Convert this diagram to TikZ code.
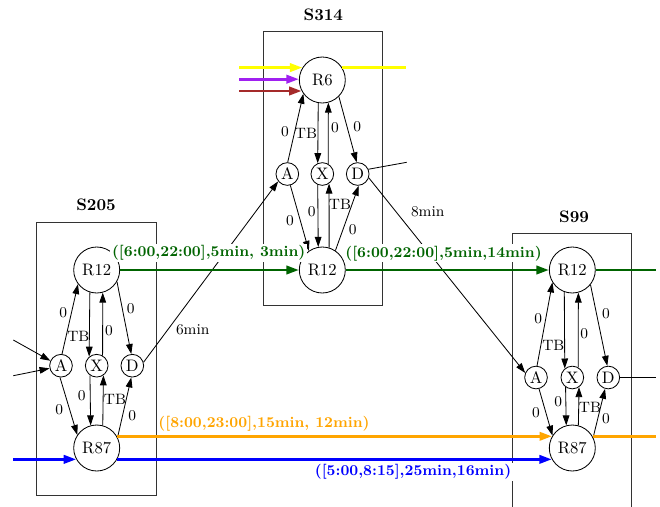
\documentclass[tikz,border=0pt]{standalone}
\usepackage{tikz}
\usetikzlibrary{arrows.meta}
\usepackage{xcolor}
\definecolor{railgreen}{RGB}{0,100,0}
\definecolor{railorange}{RGB}{255,165,0}
\definecolor{railblue}{RGB}{0,0,255}
\definecolor{railpurple}{RGB}{160,32,240}
\definecolor{railbrown}{RGB}{165,42,42}
\definecolor{railyellow}{RGB}{255,255,0}

\begin{document}
\begin{tikzpicture}[x=0.6pt, y=-0.6pt,
  station/.style={draw=black!80, line width=0.5pt},
  routenode/.style={circle, draw, line width=0.5pt, minimum size=27.6pt, inner sep=0pt},
  eventnode/.style={circle, draw, line width=0.5pt, minimum size=13.6pt, inner sep=0pt},
  stationtitle/.style={font=\bfseries},
  hop/.style={line width=0.5pt, -{Triangle[length=6pt,width=4pt]}},
  lbl/.style={font=\small, inner sep=0pt},
  railline/.style={line width=1.6pt},
  train/.style={railline, -{Triangle[length=7.5pt,width=5pt]}},
  trainlbl/.style={font=\small\bfseries, inner sep=1pt, fill=white}]
  \useasboundingbox (0,0) rectangle (660,506);

  % Station S314
  \draw[station] (263.3,31.7) rectangle (382.3,305);
  \node[stationtitle] (t314) at (323.3,15) {S314};
  \node[routenode] (s314r6) at (322.3,80) {R6};
  \node[routenode] (s314r12) at (322.3,270) {R12};
  \node[eventnode] (s314a) at (287.3,174) {A};
  \node[eventnode] (s314x) at (322.3,174) {X};
  \node[eventnode] (s314d) at (357.7,174) {D};
  \draw[hop] (s314a.88) -- (s314r6.216) node[lbl] at (285,131.7) {0};
  \draw[hop] (s314r6.260) -- (s314x.113) node[lbl] at (306,133.3) {TB};
  \draw[hop] (s314x.60) -- (s314r6.285) node[lbl] at (335,127.7) {0};
  \draw[hop] (s314r6.315) -- (s314d.95) node[lbl] at (357.3,126.7) {0};
  \draw[hop] (s314a.285) -- (s314r12.125) node[lbl] at (290,221) {0};
  \draw[hop] (s314x.247) -- (s314r12.100) node[lbl] at (311.7,211.7) {0};
  \draw[hop] (s314r12.73) -- (s314x.305) node[lbl] at (340,204) {TB};
  \draw[hop] (s314r12.56) -- (s314d.275) node[lbl] at (352.7,229.3) {0};

  % Station S205
  \draw[station] (36.7,222.3) rectangle (156,495);
  \node[stationtitle] (t205) at (96,205) {S205};
  \node[routenode] (s205r12) at (96.7,270) {R12};
  \node[routenode] (s205r87) at (96.7,448) {R87};
  \node[eventnode] (s205a) at (61,365.7) {A};
  \node[eventnode] (s205x) at (96.7,365.7) {X};
  \node[eventnode] (s205d) at (132.3,365.7) {D};
  \draw[hop] (s205a.85) -- (s205r12.217) node[lbl] at (63.3,312.7) {0};
  \draw[hop] (s205r12.253) -- (s205x.130) node[lbl] at (78.3,336) {TB};
  \draw[hop] (s205x.60) -- (s205r12.285) node[lbl] at (109,330.7) {0};
  \draw[hop] (s205r12.330) -- (s205d.95) node[lbl] at (130.7,308.3) {0};
  \draw[hop] (s205a.265) -- (s205r87.146) node[lbl] at (59.3,409.3) {0};
  \draw[hop] (s205x.235) -- (s205r87.105) node[lbl] at (81.7,395.7) {0};
  \draw[hop] (s205r87.75) -- (s205x.305) node[lbl] at (115,399.3) {TB};
  \draw[hop] (s205r87.27) -- (s205d.265) node[lbl] at (132.3,416) {0};

  % Station S99
  \draw[station] (512.7,520) -- (512.7,233.3) -- (631.7,233.3) -- (631.7,520);
  \node[stationtitle] (t99) at (574,216.7) {S99};
  \node[routenode] (s99r12) at (572.3,270) {R12};
  \node[routenode] (s99r87) at (572.3,448) {R87};
  \node[eventnode] (s99a) at (536,377.5) {A};
  \node[eventnode] (s99x) at (572.3,377.5) {X};
  \node[eventnode] (s99d) at (608.3,377.5) {D};
  \draw[hop] (s99a.85) -- (s99r12.212) node[lbl] at (538.3,318.3) {0};
  \draw[hop] (s99r12.250) -- (s99x.130) node[lbl] at (553.3,345) {TB};
  \draw[hop] (s99x.60) -- (s99r12.285) node[lbl] at (584.3,333.3) {0};
  \draw[hop] (s99r12.321) -- (s99d.95) node[lbl] at (606,314) {0};
  \draw[hop] (s99a.285) -- (s99r87.148) node[lbl] at (536,412.7) {0};
  \draw[hop] (s99x.235) -- (s99r87.105) node[lbl] at (558.3,401.7) {0};
  \draw[hop] (s99r87.75) -- (s99x.305) node[lbl] at (590,407.3) {TB};
  \draw[hop] (s99r87.27) -- (s99d.254) node[lbl] at (606,418.3) {0};

  % Walks between stations
  \coordinate (in1) at (13.3,340);
  \coordinate (in2) at (13.3,375.7);
  \coordinate (out314) at (406.7,162.3);
  \coordinate (out99) at (656,377.5);
  \draw[hop] (in1) -- (s205a.155);
  \draw[hop] (in2) -- (s205a.193);
  \draw[hop] (s205d.17) -- (s314a.219) node[lbl] at (192.7,329.3) {6min};
  \draw[hop] (s314d.341) -- (s99a.157) node[lbl] at (427.7,211.7) {8min};
  \draw[line width=0.5pt] (s314d.24) -- (out314);
  \draw[line width=0.5pt] (s99d.east) -- (out99);

  % Trains
  \coordinate (yin) at (s314r6.148 -| 239.3,0);
  \coordinate (yout) at (s314r6.32 -| 405.7,0);
  \coordinate (pin) at (s314r6.178 -| 239.3,0);
  \coordinate (bin) at (s314r6.208 -| 239.3,0);
  \coordinate (gout) at (s99r12.east -| 656,0);
  \coordinate (oout) at (s99r87.30 -| 656,0);
  \coordinate (blin) at (s205r87.209 -| 13.3,0);
  \draw[train, railyellow] (yin) -- (s314r6.148);
  \draw[railline, railyellow] (s314r6.32) -- (yout);
  \draw[train, railpurple] (pin) -- (s314r6.178);
  \draw[train, railbrown] (bin) -- (s314r6.208);

  \draw[train, railgreen] (s205r12.east) -- (s314r12.west)
    node[trainlbl, text=railgreen] at (208.7,252.7) {([6:00,22:00],5min, 3min)};
  \draw[train, railgreen] (s314r12.east) -- (s99r12.west)
    node[trainlbl, text=railgreen] at (443.5,253.3) {([6:00,22:00],5min,14min)};
  \draw[railline, railgreen] (s99r12.east) -- (gout);

  \draw[train, railorange] (s205r87.30) -- (s99r87.150)
    node[trainlbl, text=railorange] at (264,423.3) {([8:00,23:00],15min, 12min)};
  \draw[railline, railorange] (s99r87.30) -- (oout);

  \draw[train, railblue] (blin) -- (s205r87.209);
  \draw[train, railblue] (s205r87.331) -- (s99r87.209)
    node[trainlbl, text=railblue] at (413,472) {([5:00,8:15],25min,16min)};
\end{tikzpicture}
\end{document}
